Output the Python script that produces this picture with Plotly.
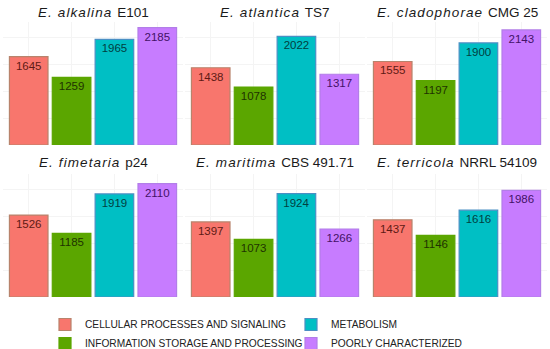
import plotly.graph_objects as go

species = ["E. alkalina", "E. atlantica", "E. cladophorae", "E. fimetaria", "E. maritima", "E. terricola"]
strains = ["E101", "TS7", "CMG 25", "p24", "CBS 491.71", "NRRL 54109"]
categories = ["CELLULAR PROCESSES AND SIGNALING", "INFORMATION STORAGE AND PROCESSING",
              "METABOLISM", "POORLY CHARACTERIZED"]
cellular = [1645, 1438, 1555, 1526, 1397, 1437]
information = [1259, 1078, 1197, 1185, 1073, 1146]
metabolism = [1965, 2022, 1900, 1919, 1924, 1616]
poorly = [2185, 1317, 2143, 2110, 1266, 1986]

series = [cellular, information, metabolism, poorly]
fills = ["#F8766D", "#5BA600", "#00BFC4", "#C77CFF"]
lines = ["#B8836C", "#5BA600", "#4A8FC4", "#B27EE8"]
textcols = ["#5E1A14", "#1F3300", "#00403F", "#431266"]
ranks = [1, 3, 2, 4]

W, H = 550, 349
col_px = [(3, 183), (185, 365), (367, 547)]
row_px = [(22, 145), (174, 297)]
title_y = [12, 163]

fig = go.Figure()
layout = dict(
    width=W, height=H, margin=dict(l=0, r=0, t=0, b=0, autoexpand=False),
    plot_bgcolor="white", paper_bgcolor="white",
    font=dict(family="Liberation Sans, Arial, sans-serif", size=11, color="#111"),
    barmode="overlay", showlegend=True,
)
annotations = []
for i in range(6):
    r, c = divmod(i, 3)
    n = i + 1
    xa = "x" if n == 1 else f"x{n}"
    ya = "y" if n == 1 else f"y{n}"
    for k in range(4):
        v = series[k][i]
        fig.add_trace(go.Bar(
            x=[k], y=[v], xaxis=xa, yaxis=ya, name=categories[k],
            legendgroup=categories[k], showlegend=(i == 0), legendrank=ranks[k],
            marker=dict(color=fills[k], line=dict(color=lines[k], width=1.2), opacity=1),
            text=[str(v)], textposition="inside", insidetextanchor="end", textangle=0,
            textfont=dict(color=textcols[k], size=11.5), width=0.9,
            hoverinfo="skip",
        ))
    x0, x1 = col_px[c]
    y0, y1 = row_px[r]
    layout["xaxis" if n == 1 else f"xaxis{n}"] = dict(
        domain=[x0 / W, x1 / W], range=[-0.6, 3.6], anchor=ya,
        showticklabels=False, ticks="", showgrid=True, gridcolor="#F4F4F4",
        tickvals=[0, 1, 2, 3], zeroline=False, showline=False, fixedrange=True)
    layout["yaxis" if n == 1 else f"yaxis{n}"] = dict(
        domain=[1 - y1 / H, 1 - y0 / H], range=[0, 2290], anchor=xa,
        showticklabels=False, ticks="", showgrid=True, gridcolor="#F4F4F4",
        dtick=500, zeroline=False, showline=False, fixedrange=True)
    annotations.append(dict(
        text=f"<i><span style='letter-spacing:1.1px'>{species[i]}&nbsp;</span></i>{strains[i]}",
        x=(x0 + x1) / 2 / W, y=1 - title_y[r] / H,
        xref="paper", yref="paper", showarrow=False, xanchor="center", yanchor="middle",
        font=dict(size=13.5, color="#1a1a1a")))

layout["annotations"] = annotations
layout["legend"] = dict(
    orientation="h", x=45 / W, xanchor="left", y=1 - 310 / H, yanchor="top",
    font=dict(size=10.2, color="#222"), itemwidth=30, tracegroupgap=0,
    entrywidth=201, traceorder="normal", bgcolor="rgba(0,0,0,0)")
fig.update_layout(**layout)
fig.write_html("out.html", config={"displayModeBar": False},
               post_script="document.body.style.margin='0px';")
